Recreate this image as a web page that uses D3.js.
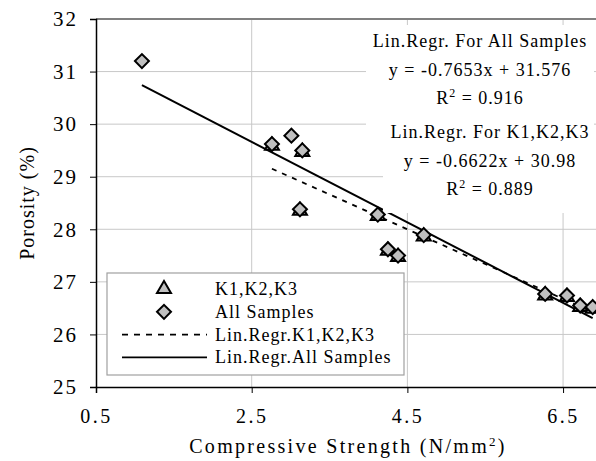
<!DOCTYPE html>
<html>
<head>
<meta charset="utf-8">
<script src="https://cdn.jsdelivr.net/npm/d3@7"></script>
<style>
  body { margin: 0; background: #fff; }
  text { font-family: "Liberation Serif", "DejaVu Serif", serif; fill: #000; }
</style>
</head>
<body>
<script>
// data
var allX = [1.09, 2.76, 3.01, 3.15, 3.12, 4.12, 4.25, 4.38, 4.71, 6.27, 6.55, 6.72, 6.88];
var allY = [31.2, 29.62, 29.78, 29.5, 28.38, 28.28, 27.62, 27.5, 27.89, 26.77, 26.74, 26.55, 26.52];
var kX = [2.76, 3.15, 3.12, 4.12, 4.25, 4.38, 4.71, 6.27, 6.55, 6.72, 6.88];
var kY = [29.62, 29.5, 28.38, 28.28, 27.62, 27.5, 27.89, 26.77, 26.74, 26.55, 26.52];
var allFit = [-0.7653, 31.576];
var kFit = [-0.6622, 30.98];
var xTicks = [0.5, 2.5, 4.5, 6.5];
var yTicks = [25, 26, 27, 28, 29, 30, 31, 32];
var noteAll = ["Lin.Regr. For All Samples", "y = -0.7653x + 31.576", "R2 = 0.916"];
var noteK = ["Lin.Regr. For K1,K2,K3", "y = -0.6622x + 30.98", "R2 = 0.889"];
var legendNames = ["K1,K2,K3", "All Samples", "Lin.Regr.K1,K2,K3", "Lin.Regr.All Samples"];

var W = 596, H = 461;
var pl = 96, pt = 19, pr = 602, pb = 387;

var svg = d3.select("body").append("svg")
    .attr("width", W)
    .attr("height", H);

var x = d3.scaleLinear().domain([0.5, 7.0]).range([pl, pr]);
var y = d3.scaleLinear().domain([25, 32]).range([pb, pt]);

// grid
svg.append("g").selectAll("line").data(yTicks.slice(1, -1)).enter().append("line")
    .attr("x1", pl).attr("x2", pr)
    .attr("y1", function(d) { return y(d); }).attr("y2", function(d) { return y(d); })
    .attr("stroke", "#c8c8c8").attr("stroke-width", 1);
svg.append("g").selectAll("line").data(xTicks.slice(1)).enter().append("line")
    .attr("x1", function(d) { return x(d); }).attr("x2", function(d) { return x(d); })
    .attr("y1", pt).attr("y2", pb)
    .attr("stroke", "#c8c8c8").attr("stroke-width", 1);

// top border
svg.append("line")
    .attr("x1", pl).attr("x2", pr).attr("y1", pt).attr("y2", pt)
    .attr("stroke", "#808080").attr("stroke-width", 2);

// regression lines
function fitLine(fit, xs) {
  var ex = d3.extent(xs);
  return d3.line()
    .x(function(d) { return x(d); })
    .y(function(d) { return y(fit[0] * d + fit[1]); })(ex);
}
svg.append("path").attr("d", fitLine(kFit, kX))
    .attr("fill", "none").attr("stroke", "#000").attr("stroke-width", 1.8)
    .attr("stroke-dasharray", "5,6");
svg.append("path").attr("d", fitLine(allFit, allX))
    .attr("fill", "none").attr("stroke", "#000").attr("stroke-width", 2);

// annotation boxes
function note(lines, bx, by, bw, bh, cx, y0) {
  var g = svg.append("g");
  g.append("rect").attr("x", bx).attr("y", by).attr("width", bw).attr("height", bh).attr("fill", "#fff");
  lines.forEach(function(t, i) {
    var tx = g.append("text")
      .attr("x", cx).attr("y", y0 + i * 28.5)
      .attr("text-anchor", "middle")
      .style("font-size", "18px")
      .style("letter-spacing", "1px");
    if (t.indexOf("R2") === 0) {
      tx.append("tspan").text("R");
      tx.append("tspan").attr("dy", -7).style("font-size", "12px").text("2");
      tx.append("tspan").attr("dy", 7).text(t.slice(2));
    } else {
      tx.text(t);
    }
  });
}
note(noteAll, 366, 25, 228, 101, 480, 47);
note(noteK, 383, 126, 213, 87, 490, 138);

// markers
var tri = d3.symbol().type(d3.symbolTriangle).size(85);
var dia = d3.symbol().type(d3.symbolSquare).size(98);
svg.append("g").selectAll("path").data(kX).enter().append("path")
    .attr("d", tri)
    .attr("transform", function(d, i) { return "translate(" + x(d) + "," + (y(kY[i]) + 1.5) + ")"; })
    .attr("fill", "#c0c0c0").attr("stroke", "#000").attr("stroke-width", 2);
svg.append("g").selectAll("path").data(allX).enter().append("path")
    .attr("d", dia)
    .attr("transform", function(d, i) { return "translate(" + x(d) + "," + y(allY[i]) + ") rotate(45)"; })
    .attr("fill", "#c0c0c0").attr("stroke", "#000").attr("stroke-width", 2);

// axes
svg.append("g")
    .attr("transform", "translate(0," + pb + ")")
    .call(d3.axisBottom(x).tickValues(xTicks).tickSize(6).tickPadding(16).tickFormat(d3.format(".1f")))
    .call(function(g) {
      g.select(".domain").attr("stroke-width", 1.5);
      g.selectAll("text").style("font-size", "20px").style("letter-spacing", "2.5px")
        .style("font-family", "Liberation Serif");
    });
svg.append("g")
    .attr("transform", "translate(" + pl + ",0)")
    .call(d3.axisLeft(y).tickValues(yTicks).tickSize(6).tickPadding(12).tickFormat(d3.format("d")))
    .call(function(g) {
      g.select(".domain").attr("stroke-width", 1.5);
      g.selectAll("text").style("font-size", "21px").style("letter-spacing", "2px")
        .style("font-family", "Liberation Serif");
    });

// axis titles
var xt = svg.append("text")
    .attr("x", 348).attr("y", 453)
    .attr("text-anchor", "middle")
    .style("font-size", "20px").style("letter-spacing", "2.3px");
xt.append("tspan").text("Compressive Strength (N/mm");
xt.append("tspan").attr("dy", -7).style("font-size", "13px").text("2");
xt.append("tspan").attr("dy", 7).text(")");

svg.append("text")
    .attr("transform", "translate(34," + (pt + pb) / 2 + ") rotate(-90)")
    .attr("text-anchor", "middle")
    .style("font-size", "20px").style("letter-spacing", "1px")
    .text("Porosity (%)");

// legend
var lg = svg.append("g");
lg.append("rect").attr("x", 107).attr("y", 273).attr("width", 297).attr("height", 102)
    .attr("fill", "#fff").attr("stroke", "#a0a0a0").attr("stroke-width", 1.2);
legendNames.forEach(function(name, i) {
  var cy = 289 + i * 22.8;
  if (i === 0) {
    lg.append("path").attr("d", tri).attr("transform", "translate(164," + cy + ")")
      .attr("fill", "#c0c0c0").attr("stroke", "#000").attr("stroke-width", 2);
  } else if (i === 1) {
    lg.append("path").attr("d", dia).attr("transform", "translate(164," + cy + ") rotate(45)")
      .attr("fill", "#c0c0c0").attr("stroke", "#000").attr("stroke-width", 2);
  } else {
    lg.append("line").attr("x1", 122).attr("x2", 207).attr("y1", cy).attr("y2", cy)
      .attr("stroke", "#000").attr("stroke-width", 1.8)
      .attr("stroke-dasharray", i === 2 ? "6,6" : null);
  }
  lg.append("text").attr("x", 215).attr("y", cy + 6)
    .style("font-size", "18px").style("letter-spacing", "1px")
    .text(name);
});
</script>
</body>
</html>
